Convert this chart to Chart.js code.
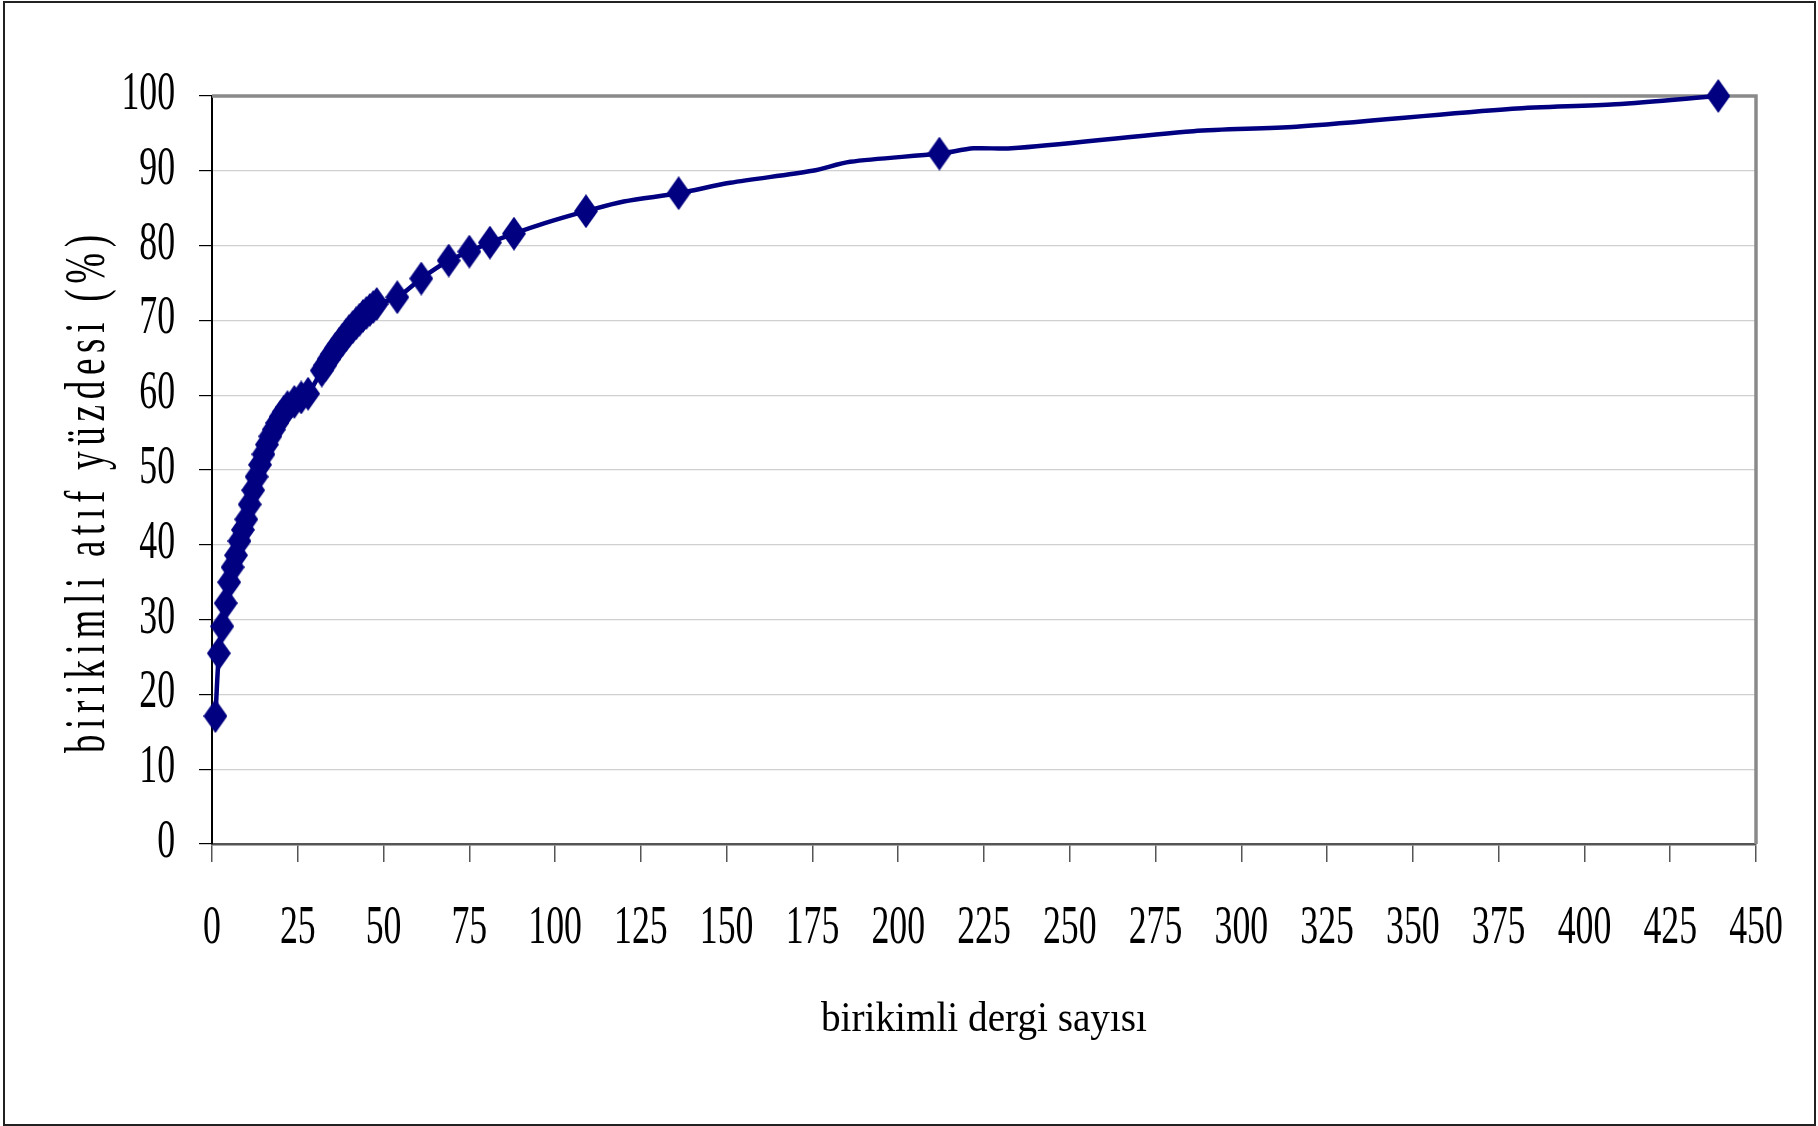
<!DOCTYPE html>
<html>
<head>
<meta charset="utf-8">
<script src="https://cdn.jsdelivr.net/npm/chart.js@4.4.1/dist/chart.umd.min.js"></script>
<style>
html,body{margin:0;padding:0;background:#fff;}
#wrap{position:relative;width:1818px;height:1126px;}
</style>
</head>
<body>
<div id="wrap"><canvas id="c"></canvas></div>
<script>
// cumulative number of journals (x)
const journals = [1,2,3,4,5,6,7,8,9,10,11,12,13,14,15,16,17,18,19,20,21,22,24,26,28,
  32,33,34,35,36,37,38,39,40,41,42,43,44,45,46,47,48,
  54,61,69,75,81,88,97,109,120,136,151,175,186,212,222,233,286,316,379,409,439];
// cumulative citation percentage (y)
const citePct = [17.1,25.5,29.1,32.2,35.0,37.0,38.6,40.5,42.0,43.4,45.4,47.3,49.1,50.7,52.1,53.4,54.5,55.4,56.3,57.1,57.8,58.4,59.1,59.7,60.2,
  63.3,64.0,64.8,65.5,66.2,66.8,67.4,68.0,68.6,69.1,69.6,70.1,70.6,71.0,71.4,71.8,72.2,
  73.1,75.6,78.0,79.2,80.4,81.6,83.0,84.6,85.9,87.0,88.4,90.0,91.2,92.3,93.0,93.0,95.3,95.9,98.3,98.9,100.0];
// whether the point carries a marker
const hasMarker = [1,1,1,1,1,1,1,1,1,1,1,1,1,1,1,1,1,1,1,1,1,1,1,1,1,
  1,1,1,1,1,1,1,1,1,1,1,1,1,1,1,1,1,
  1,1,1,1,1,1,0,1,0,1,0,0,0,1,0,0,0,0,0,0,1];
const xTicks = [0,25,50,75,100,125,150,175,200,225,250,275,300,325,350,375,400,425,450];
const yTicks = [0,10,20,30,40,50,60,70,80,90,100];
const xTitle = 'birikimli dergi sayısı';
const yTitle = 'birikimli atıf yüzdesi (%)';

const NAVY = '#000080';
const FONT = '"Liberation Serif", "Times New Roman", serif';

// tall diamond marker
const mk = document.createElement('canvas');
mk.width = 24; mk.height = 34;
(function(){
  const g = mk.getContext('2d');
  g.fillStyle = NAVY;
  g.beginPath();
  g.moveTo(12,0); g.lineTo(24,17); g.lineTo(12,34); g.lineTo(0,17); g.closePath();
  g.fill();
})();

const points = journals.map((x,i)=>({x:x, y:citePct[i]}));

const decor = {
  id:'decor',
  beforeDraw(chart){
    const ctx = chart.ctx;
    ctx.save();
    ctx.fillStyle = '#fff';
    ctx.fillRect(0,0,chart.width,chart.height);
    ctx.strokeStyle = '#222';
    ctx.lineWidth = 2;
    ctx.strokeRect(4,2,chart.width-7,chart.height-3);
    ctx.restore();
  },
  beforeDatasetsDraw(chart){
    const ctx = chart.ctx, a = chart.chartArea;
    ctx.save();
    ctx.strokeStyle = '#8a8a8a';
    ctx.lineWidth = 3.5;
    ctx.beginPath();
    ctx.moveTo(a.left, a.top); ctx.lineTo(a.right, a.top); ctx.lineTo(a.right, a.bottom);
    ctx.stroke();
    ctx.restore();
  },
  afterDraw(chart){
    const ctx = chart.ctx, a = chart.chartArea;
    const xs = chart.scales.x, ys = chart.scales.y;
    const SX = 0.65;
    ctx.save();
    ctx.fillStyle = '#000';
    ctx.font = '55px ' + FONT;
    ctx.textBaseline = 'alphabetic';
    // y tick labels
    ctx.textAlign = 'right';
    yTicks.forEach(v=>{
      const py = ys.getPixelForValue(v);
      ctx.save();
      ctx.translate(a.left - 37, py + 13);
      ctx.scale(SX,1);
      ctx.fillText(String(v),0,0);
      ctx.restore();
    });
    // x tick labels
    ctx.textAlign = 'center';
    xTicks.forEach(v=>{
      const px = xs.getPixelForValue(v);
      ctx.save();
      ctx.translate(px, a.bottom + 99);
      ctx.scale(SX,1);
      ctx.fillText(String(v),0,0);
      ctx.restore();
    });
    // x title
    ctx.font = '43px ' + FONT;
    const w = ctx.measureText(xTitle).width;
    ctx.save();
    ctx.translate((a.left+a.right)/2, 1031);
    ctx.scale(326/w,1);
    ctx.fillText(xTitle,0,0);
    ctx.restore();
    // y title (rotated, condensed, letter-spaced)
    ctx.font = '57px ' + FONT;
    const w0 = ctx.measureText(yTitle).width;
    const n = [...yTitle].length;
    const target = 524/SX;
    const sp = (target - w0)/n;
    ctx.save();
    ctx.translate(104, 494);
    ctx.rotate(-Math.PI/2);
    ctx.scale(SX,1);
    ctx.letterSpacing = sp.toFixed(2) + 'px';
    ctx.textAlign = 'center';
    ctx.fillText(yTitle, sp/2, 0);
    ctx.restore();
    ctx.restore();
  }
};

new Chart(document.getElementById('c'), {
  type:'line',
  data:{
    datasets:[{
      data: points,
      borderColor: NAVY,
      borderWidth: 4.5,
      backgroundColor: NAVY,
      tension: 0.3,
      fill:false,
      clip:false,
      pointStyle: mk,
      pointRadius: (c)=> hasMarker[c.dataIndex] ? 6 : 0,
      pointHoverRadius: (c)=> hasMarker[c.dataIndex] ? 6 : 0
    }]
  },
  options:{
    responsive:true,
    maintainAspectRatio:false,
    animation:false,
    events:[],
    layout:{padding:{top:96,right:62,left:0,bottom:0}},
    plugins:{legend:{display:false},tooltip:{enabled:false},title:{display:false}},
    scales:{
      x:{
        type:'linear', min:0, max:450,
        ticks:{display:false, stepSize:25},
        afterBuildTicks(s){ s.ticks = xTicks.map(v=>({value:v})); },
        afterFit(s){ s.height = 282; },
        grid:{drawOnChartArea:false, drawTicks:true, tickLength:18, tickColor:'#555', lineWidth:1.5, color:'#555'},
        border:{color:'#555', width:2.5}
      },
      y:{
        type:'linear', min:0, max:100,
        ticks:{display:false, stepSize:10},
        afterBuildTicks(s){ s.ticks = yTicks.map(v=>({value:v})); },
        afterFit(s){ s.width = 212; },
        grid:{drawOnChartArea:true, drawTicks:true, tickLength:13, tickColor:'#000', color:'#d0d0d0', lineWidth:1.2},
        border:{color:'#000', width:2}
      }
    }
  },
  plugins:[decor]
});
</script>
</body>
</html>
